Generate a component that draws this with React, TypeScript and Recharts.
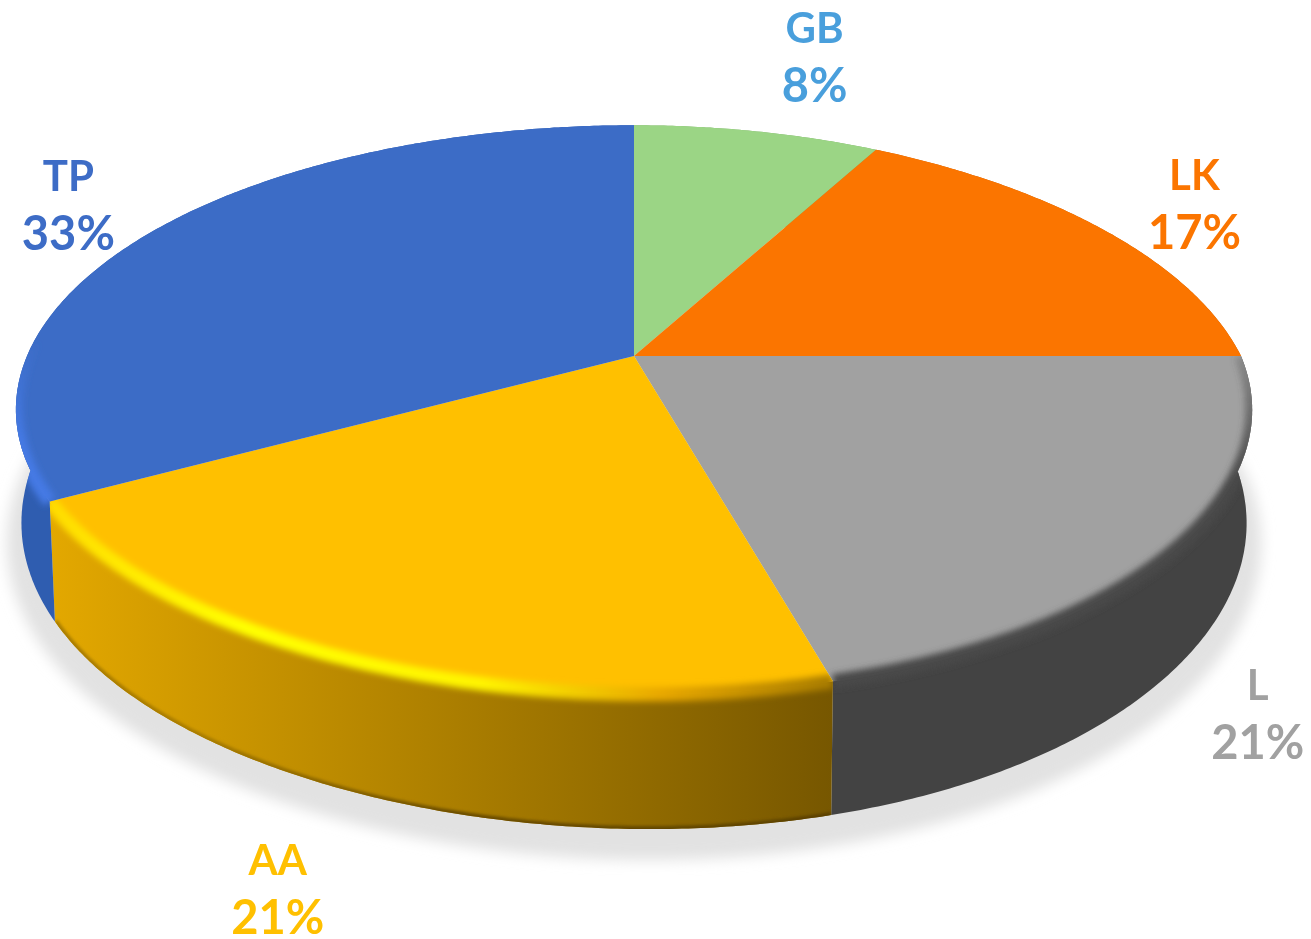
import React from 'react';
import { PieChart, Pie, Cell } from 'recharts';

const categories = ['GB', 'LK', 'L', 'AA', 'TP'];
const shares = [8, 17, 21, 21, 33];
const faceColors = ['#9BD585', '#FB7500', '#A1A1A1', '#FFC000', '#3C6CC6'];
const wallColors = ['#7FB06C', '#C45C00', '#434343', 'url(#aaWall)', '#2F5DB0'];
const rimColors = ['none', 'none', 'url(#lRim)', 'url(#aaRim)', 'url(#tpRim)'];
const edgeColors = ['none', 'none', 'none', 'url(#aaEdge)', 'none'];
const textColors = ['#4A9FDC', '#FB7500', '#A1A1A1', '#FFC000', '#3C6CC6'];
const labelDx = [58, 93, 79, -76, -89];
const labelDy = [-88, -39, 154, 214, -38];
const outlineRows = [{ name: 'all', value: shares.reduce((s, v) => s + v, 0) }];

const rows = categories.map((name, i) => ({ name, value: shares[i] }));

const TILT = 0.189;
const FLATTEN = 0.452;
const DEPTH = 0.18;
const SHADOW_DROP = 0.025;
const NARROW = 0.05;

const project = (cx: number, cy: number, r: number, deg: number, drop = 0) => {
  const a = (deg * Math.PI) / 180;
  const x = Math.cos(a);
  const y = Math.sin(a);
  const w = 1 + TILT * y;
  const skew = y < 0 ? 16 * y ** 4 : x > 0 ? -21 * x * y : 0;
  return [cx + (r * (1 - NARROW * drop) * x) / w + skew, cy + (r * (drop - FLATTEN * y)) / w] as const;
};

const arcPoints = (p: any, drop = 0) => {
  const pts: (readonly [number, number])[] = [];
  const steps = Math.max(2, Math.ceil(Math.abs(p.endAngle - p.startAngle) * 2));
  for (let i = 0; i <= steps; i++) {
    const d = p.startAngle + ((p.endAngle - p.startAngle) * i) / steps;
    pts.push(project(p.cx, p.cy, p.outerRadius, d, drop));
  }
  return pts;
};

const toPath = (pts: (readonly [number, number])[]) =>
  pts.map((q, i) => `${i ? 'L' : 'M'}${q[0].toFixed(1)} ${q[1].toFixed(1)}`).join(' ');

const wallPath = (p: any) => {
  const top = arcPoints(p);
  const bottom = arcPoints(p, DEPTH).reverse();
  return `${toPath(top)} ${toPath(bottom).replace('M', 'L')} Z`;
};

const FaceShape = (p: any) => {
  const rim = arcPoints(p);
  const face = `${toPath(rim)} L${p.cx} ${p.cy} Z`;
  const i = p.index;
  const rimColor = rimColors[i];
  return (
    <g>
      <path d={face} fill={p.fill} stroke="none" />
      {rimColor !== 'none' && (
        <g clipPath={`url(#rimClip${i})`}>
          <clipPath id={`rimClip${i}`}>
            <path d={face} />
            <path d={wallPath(p)} />
          </clipPath>
          <path d={toPath(rim)} fill="none" stroke={rimColor} strokeWidth={14} filter="url(#soft)" />
        </g>
      )}
    </g>
  );
};

const WallShape = (p: any) => {
  const i = p.index;
  const d = wallPath(p);
  return (
    <g>
      <path d={d} fill={p.fill} stroke="none" />
      {edgeColors[i] !== 'none' && (
        <g clipPath={`url(#wallClip${i})`}>
          <clipPath id={`wallClip${i}`}>
            <path d={d} />
          </clipPath>
          <path d={toPath(arcPoints(p, DEPTH))} fill="none" stroke={edgeColors[i]} strokeWidth={6} filter="url(#edgeSoft)" />
        </g>
      )}
    </g>
  );
};

const ShadowShape = (p: any) => {
  const ring = arcPoints({ ...p, outerRadius: p.outerRadius * 1.025 }, DEPTH + SHADOW_DROP);
  return <path d={`${toPath(ring)} Z`} fill="#E2E2E2" stroke="none" filter="url(#shadowBlur)" />;
};

const renderLabel = (p: any) => {
  const i = p.index;
  const [x, y] = project(p.cx, p.cy, p.outerRadius, p.midAngle);
  const lx = x + labelDx[i];
  const ly = y + labelDy[i];
  return (
    <text
      x={lx}
      y={ly}
      textAnchor="middle"
      fill={textColors[i]}
      fontFamily="Lato, 'Open Sans', sans-serif"
      fontWeight={700}
      fontSize={42}
      filter="url(#textSoft)"
    >
      <tspan x={lx} y={ly}>{categories[i]}</tspan>
      <tspan x={lx} y={ly + 59} fontSize={47}>{`${Math.round(p.percent * 100)}%`}</tspan>
    </text>
  );
};

const common = {
  dataKey: 'value',
  nameKey: 'name',
  cx: 634,
  cy: 356,
  outerRadius: 607,
  innerRadius: 0,
  startAngle: 90,
  endAngle: -270,
  stroke: 'none',
  isAnimationActive: false,
};

export default function App() {
  return (
    <div style={{ position: 'fixed', left: 0, top: 0, width: 1311, height: 939, overflow: 'hidden', background: '#fff' }}>
      <PieChart width={1311} height={939} margin={{ top: 0, right: 0, bottom: 0, left: 0 }}>
        <defs>
          <linearGradient id="aaWall" gradientUnits="userSpaceOnUse" x1={50} y1={0} x2={832} y2={0}>
            <stop offset="0%" stopColor="#E3A800" />
            <stop offset="100%" stopColor="#775700" />
          </linearGradient>
          <linearGradient id="aaRim" gradientUnits="userSpaceOnUse" x1={50} y1={0} x2={832} y2={0}>
            <stop offset="0%" stopColor="#FFDC00" />
            <stop offset="25%" stopColor="#FFFF00" />
            <stop offset="55%" stopColor="#FFF400" />
            <stop offset="78%" stopColor="#E8A800" />
            <stop offset="100%" stopColor="#A87C00" />
          </linearGradient>
          <linearGradient id="aaEdge" gradientUnits="userSpaceOnUse" x1={200} y1={0} x2={832} y2={0}>
            <stop offset="0%" stopColor="#A87C00" />
            <stop offset="40%" stopColor="#6B4D00" />
            <stop offset="100%" stopColor="#5A4000" />
          </linearGradient>
          <linearGradient id="tpRim" gradientUnits="userSpaceOnUse" x1={0} y1={340} x2={0} y2={440}>
            <stop offset="0%" stopColor="#4479E4" stopOpacity={0} />
            <stop offset="100%" stopColor="#4479E4" stopOpacity={1} />
          </linearGradient>
          <linearGradient id="lRim" gradientUnits="userSpaceOnUse" x1={0} y1={360} x2={0} y2={480}>
            <stop offset="0%" stopColor="#4A4A4A" stopOpacity={0.3} />
            <stop offset="100%" stopColor="#4A4A4A" stopOpacity={1} />
          </linearGradient>
          <filter id="soft" x="-10%" y="-20%" width="120%" height="140%">
            <feGaussianBlur stdDeviation={3} />
          </filter>
          <filter id="edgeSoft" x="-10%" y="-20%" width="120%" height="140%">
            <feGaussianBlur stdDeviation={1.5} />
          </filter>
          <filter id="shadowBlur" x="-10%" y="-20%" width="120%" height="140%">
            <feGaussianBlur stdDeviation={7} />
          </filter>
          <filter id="textSoft" x="-10%" y="-10%" width="120%" height="120%">
            <feGaussianBlur stdDeviation={0.6} />
          </filter>
        </defs>
        <Pie {...common} data={outlineRows} shape={ShadowShape} />
        <Pie {...common} data={rows} shape={WallShape}>
          {rows.map((r, i) => <Cell key={r.name} fill={wallColors[i]} />)}
        </Pie>
        <Pie {...common} data={rows} shape={FaceShape} label={renderLabel} labelLine={false}>
          {rows.map((r, i) => <Cell key={r.name} fill={faceColors[i]} />)}
        </Pie>
      </PieChart>
    </div>
  );
}
